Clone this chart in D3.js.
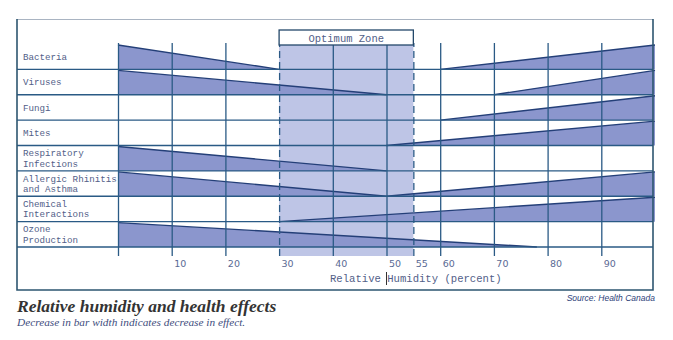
<!DOCTYPE html>
<html>
<head>
<meta charset="utf-8">
<script src="https://cdn.jsdelivr.net/npm/d3@7"></script>
<style>
  body { margin: 0; background: #fff; }
  svg { display: block; }
</style>
</head>
<body>
<div id="chart"></div>
<script>
// Chart data
var categories = ['Bacteria', 'Viruses', 'Fungi', 'Mites', 'Respiratory\nInfections',
    'Allergic Rhinitis\nand Asthma', 'Chemical\nInteractions', 'Ozone\nProduction'];
// humidity where the decreasing wedge (full at 0%) reaches zero
var decreaseEnd = [30, 50, null, null, 50, 50, null, 78];
// humidity where the increasing wedge (full at 100%) starts from zero
var increaseStart = [60, 70, 60, 50, null, 50, 30, null];
var tickValues = [0, 10, 20, 30, 40, 50, 55, 60, 70, 80, 90];
var optimumZone = [30, 55];

var width = 673, height = 340;

var svg = d3.select('#chart')
    .append('svg')
    .attr('width', width)
    .attr('height', height);

var x = d3.scaleLinear().domain([0, 100]).range([118, 655]);
var y = d3.scaleBand().domain(categories).range([44, 247]);

var gridTop = 43, gridBottom = 256;
var lineColor = '#2a5a85';
var textColor = '#526088';

// optimum zone shading
svg.append('rect')
    .attr('x', x(optimumZone[0]))
    .attr('y', 45)
    .attr('width', x(optimumZone[1]) - x(optimumZone[0]))
    .attr('height', gridBottom - 45)
    .attr('fill', '#bec5e6');

// wedges
var wedges = [];
categories.forEach(function(c, i) {
    if (decreaseEnd[i] != null) wedges.push({ cat: c, x0: 0, h0: 1, x1: decreaseEnd[i], h1: 0 });
    if (increaseStart[i] != null) wedges.push({ cat: c, x0: increaseStart[i], h0: 0, x1: 100, h1: 1 });
});

var full = y.bandwidth() - 1;

svg.selectAll('.wedge')
    .data(wedges)
    .enter()
    .append('path')
    .attr('class', 'wedge')
    .attr('d', function(d) {
        var b = y(d.cat) + y.bandwidth();
        return 'M' + x(d.x0) + ',' + b +
            'L' + x(d.x0) + ',' + (b - d.h0 * full) +
            'L' + x(d.x1) + ',' + (b - d.h1 * full) +
            'L' + x(d.x1) + ',' + b + 'Z';
    })
    .attr('fill', '#8b96cd');

svg.selectAll('.wedge-top')
    .data(wedges)
    .enter()
    .append('line')
    .attr('x1', d => x(d.x0))
    .attr('y1', d => y(d.cat) + y.bandwidth() - d.h0 * full)
    .attr('x2', d => x(d.x1))
    .attr('y2', d => y(d.cat) + y.bandwidth() - d.h1 * full)
    .attr('stroke', '#243f78')
    .attr('stroke-width', 1.4);

// vertical grid via axis
var axis = d3.axisBottom(x)
    .tickValues(tickValues)
    .tickSizeInner(-(gridBottom - gridTop))
    .tickSizeOuter(0)
    .tickFormat(d => d === 0 ? '' : d);

var axisG = svg.append('g')
    .attr('transform', `translate(0,${gridBottom})`)
    .call(axis);

axisG.select('.domain').remove();
axisG.selectAll('.tick line')
    .attr('stroke', lineColor)
    .attr('stroke-width', 1.3)
    .attr('stroke-dasharray', d => (d === optimumZone[0] || d === optimumZone[1]) ? '7,4' : null);
axisG.selectAll('.tick text')
    .attr('x', 8)
    .attr('y', 8)
    .attr('dy', '0.35em')
    .attr('fill', '#5a6a94')
    .style('font-family', '"DejaVu Sans", sans-serif')
    .style('font-size', '9.5px');

// horizontal row lines
svg.selectAll('.row-line')
    .data(categories)
    .enter()
    .append('line')
    .attr('x1', 17)
    .attr('x2', 653)
    .attr('y1', d => y(d) + y.bandwidth())
    .attr('y2', d => y(d) + y.bandwidth())
    .attr('stroke', lineColor)
    .attr('stroke-width', 1.4);

// row labels
var labels = svg.selectAll('.row-label')
    .data(categories)
    .enter()
    .append('text')
    .attr('x', 23)
    .attr('fill', textColor)
    .style('font-family', '"Liberation Mono", monospace')
    .style('font-size', '9.2px');

labels.each(function(d) {
    var lines = d.split('\n');
    var cy = y(d) + y.bandwidth() / 2;
    var t = d3.select(this);
    lines.forEach(function(l, j) {
        t.append('tspan')
            .attr('x', 23)
            .attr('y', cy + (j - (lines.length - 1) / 2) * 10.5)
            .attr('dy', '0.35em')
            .text(l);
    });
});

// optimum zone label box
svg.append('rect')
    .attr('x', x(optimumZone[0]))
    .attr('y', 30)
    .attr('width', x(optimumZone[1]) - x(optimumZone[0]))
    .attr('height', 15)
    .attr('fill', '#fff')
    .attr('stroke', '#24486a')
    .attr('stroke-width', 1.3);

svg.append('text')
    .attr('x', (x(optimumZone[0]) + x(optimumZone[1])) / 2)
    .attr('y', 38)
    .attr('dy', '0.35em')
    .attr('text-anchor', 'middle')
    .attr('fill', textColor)
    .style('font-family', '"Liberation Mono", monospace')
    .style('font-size', '10.5px')
    .text('Optimum Zone');

// outer frame
svg.append('line').attr('x1', 17).attr('x2', 653).attr('y1', 19.5).attr('y2', 19.5)
    .attr('stroke', '#a9b4c2').attr('stroke-width', 1.2);
svg.append('path')
    .attr('d', 'M17,19 L17,290 L653,290 L653,19')
    .attr('fill', 'none')
    .attr('stroke', '#2d5670')
    .attr('stroke-width', 1.6);

// axis title
svg.append('text')
    .attr('x', 330)
    .attr('y', 282)
    .attr('fill', textColor)
    .style('font-family', '"Liberation Mono", monospace')
    .style('font-size', '10.6px')
    .text('Relative Humidity (percent)');

svg.append('line')
    .attr('x1', x(50)).attr('x2', x(50))
    .attr('y1', 272).attr('y2', 285)
    .attr('stroke', '#333').attr('stroke-width', 1);

// title and notes
svg.append('text')
    .attr('x', 17)
    .attr('y', 312)
    .attr('fill', '#333')
    .style('font-family', '"Liberation Serif", serif')
    .style('font-style', 'italic')
    .style('font-weight', 'bold')
    .style('font-size', '17.5px')
    .text('Relative humidity and health effects');

svg.append('text')
    .attr('x', 17)
    .attr('y', 326)
    .attr('fill', '#3e4d7e')
    .style('font-family', '"Liberation Serif", serif')
    .style('font-style', 'italic')
    .style('font-size', '11.3px')
    .text('Decrease in bar width indicates decrease in effect.');

svg.append('text')
    .attr('x', 655)
    .attr('y', 301)
    .attr('text-anchor', 'end')
    .attr('fill', '#2e3f7a')
    .style('font-family', '"Liberation Sans", sans-serif')
    .style('font-style', 'italic')
    .style('font-size', '8.5px')
    .text('Source: Health Canada');
</script>
</body>
</html>
